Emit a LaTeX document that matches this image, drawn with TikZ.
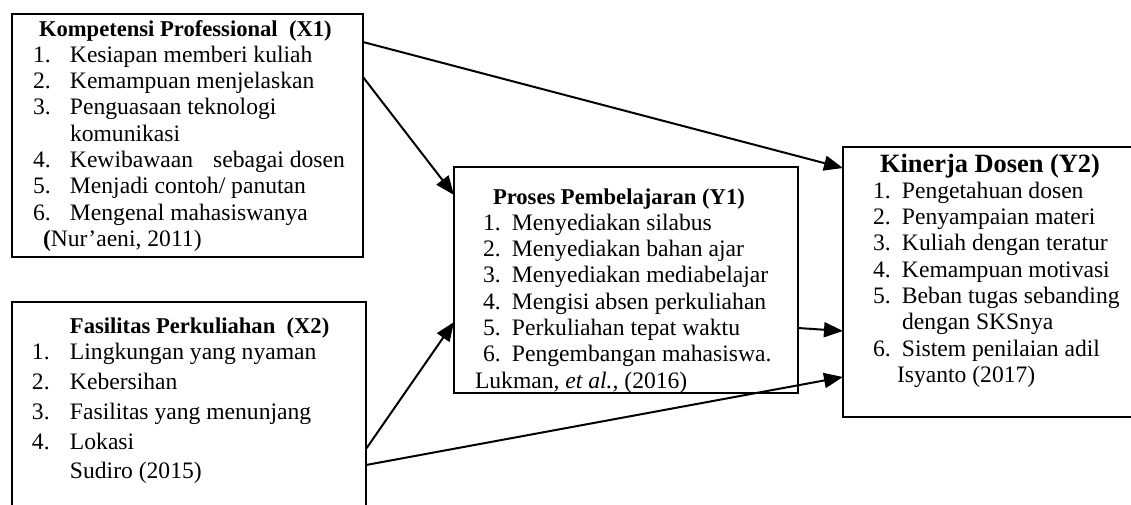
\documentclass[tikz,border=0pt]{standalone}
\usepackage{fontspec}
\setmainfont{Liberation Serif}
\usetikzlibrary{arrows.meta}
\newcommand{\boxtitle}[1]{{\fontsize{11.3}{13.15}\selectfont\textbf{#1}}}
\begin{document}
\begin{tikzpicture}[x=0.5pt,y=-0.5pt,
  box/.style={draw, line width=1pt, inner sep=0pt, outer sep=0pt, anchor=north west},
  txt/.style={inner sep=0pt, outer sep=0pt, anchor=north west, font=\fontsize{11.8}{13.15}\selectfont},
  arr/.style={line width=1pt, -{Triangle[length=9.5pt,width=7.5pt]}}]
\useasboundingbox (0,0) rectangle (1131,504);
\clip (0,0) rectangle (1131,504);
% boxes
\node[box, minimum width=175.5pt, minimum height=121.5pt] (x1) at (12,14) {};
\node[box, minimum width=177pt, minimum height=108pt] (x2) at (12,302) {};
\node[box, minimum width=172pt, minimum height=113pt] (y1) at (454,167) {};
\node[box, minimum width=148pt, minimum height=135pt] (y2) at (843,147) {};
% texts
\node[txt] (x1t) at (33,17.6) {\begin{tabular}{@{}p{18.5pt}@{}l@{}}
\multicolumn{2}{@{\hspace{3pt}}l@{}}{\boxtitle{Kompetensi Professional\ \ (X1)}}\\
1. & Kesiapan memberi kuliah\\
2. & Kemampuan menjelaskan\\
3. & Penguasaan teknologi\\
   & komunikasi\\
4. & Kewibawaan\hspace{7pt} sebagai dosen\\
5. & Menjadi contoh/ panutan\\
6. & Mengenal mahasiswanya\\
\multicolumn{2}{@{\hspace{5pt}}l@{}}{\textbf{(}Nur’aeni, 2011)}
\end{tabular}};
\node[txt] (x2t) at (32,314.6) {\begin{tabular}{@{}p{19pt}@{}l@{}}
\multicolumn{2}{@{\hspace{19pt}}l@{}}{\boxtitle{Fasilitas Perkuliahan\ \ (X2)}}\\
1. & Lingkungan yang nyaman\\[1.8pt]
2. & Kebersihan\\[1.8pt]
3. & Fasilitas yang menunjang\\[1.8pt]
4. & Lokasi\\[1.8pt]
   & Sudiro (2015)
\end{tabular}};
\node[txt] (y1t) at (483,185.6) {\begin{tabular}{@{}p{14.5pt}@{}l@{}}
\multicolumn{2}{@{\hspace{5pt}}l@{}}{\boxtitle{Proses Pembelajaran (Y1)}}\\
1. & Menyediakan silabus\\
2. & Menyediakan bahan ajar\\
3. & Menyediakan mediabelajar\\
4. & Mengisi absen perkuliahan\\
5. & Perkuliahan tepat waktu\\
6. & Pengembangan mahasiswa.\\
\multicolumn{2}{@{\hspace{-4pt}}l@{}}{Lukman\textit{, et al.,} (2016)}
\end{tabular}};
\node[txt] (y2t) at (873,153.6) {\begin{tabular}{@{}p{14.5pt}@{}l@{}}
\multicolumn{2}{@{\hspace{3.5pt}}l@{}}{\fontsize{13.2}{14}\selectfont\textbf{Kinerja Dosen (Y2)}}\\
1. & Pengetahuan dosen\\
2. & Penyampaian materi\\
3. & Kuliah dengan teratur\\
4. & Kemampuan motivasi\\
5. & Beban tugas sebanding\\
   & dengan SKSnya\\
6. & Sistem penilaian adil\\
\multicolumn{2}{@{\hspace{12pt}}l@{}}{Isyanto (2017)}
\end{tabular}};
% arrows
\draw[arr] ([yshift=-14pt]x1.north east) -- ([yshift=-10.5pt]y2.north west);
\draw[arr] ([yshift=-31.5pt]x1.north east) -- ([yshift=-14pt]y1.north west);
\draw[arr] ([yshift=-73.5pt]x2.north east) -- ([yshift=-77.5pt]y1.north west);
\draw[arr] ([yshift=-81.5pt]x2.north east) -- ([yshift=-115pt]y2.north west);
\draw[arr] ([yshift=-80.5pt]y1.north east) -- ([yshift=-92pt]y2.north west);
\end{tikzpicture}
\end{document}
